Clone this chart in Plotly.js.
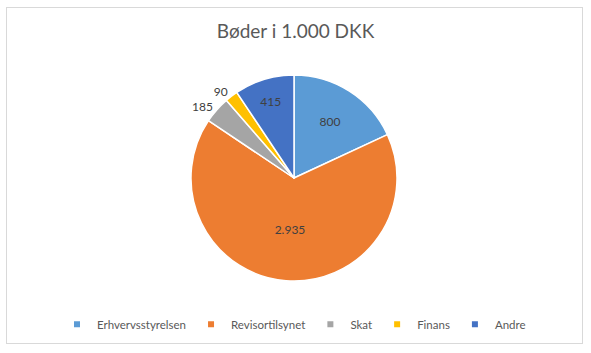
<!DOCTYPE html>
<html><head><meta charset="utf-8">
<script src="https://cdn.plot.ly/plotly-3.0.1.min.js"></script>
<style>
html,body{margin:0;padding:0;background:#fff;}
#wrap{position:relative;width:591px;height:353px;}
#frame{position:absolute;left:6px;top:7px;width:575px;height:335px;border:1px solid #d9d9d9;pointer-events:none;}
#chart{position:absolute;left:0;top:0;width:591px;height:353px;}
</style></head>
<body>
<div id="wrap"><div id="chart"></div><div id="frame"></div></div>
<script>
const categories = ["Erhvervsstyrelsen", "Revisortilsynet", "Skat", "Finans", "Andre"];
const values = [800, 2935, 185, 90, 415];
const colors = ["#5B9BD5", "#ED7D31", "#A5A5A5", "#FFC000", "#4472C4"];
const labelPositions = ["inside", "inside", "outside", "outside", "inside"];

const font = "Lato, 'Open Sans', sans-serif";
const traces = [{
  type: "pie",
  labels: categories,
  values: values,
  sort: false,
  direction: "clockwise",
  rotation: 0,
  showlegend: false,
  marker: {colors: colors, line: {color: "#ffffff", width: 1.5}},
  texttemplate: "%{value:,}",
  textposition: labelPositions,
  insidetextorientation: "horizontal",
  textfont: {family: font, size: 12, color: "#404040"},
  hoverinfo: "label+value"
}];
categories.forEach((c, i) => {
  traces.push({type: "scatter", mode: "markers", x: [null], y: [null], name: c,
    marker: {symbol: "square", size: 6, color: colors[i]}, showlegend: true, hoverinfo: "skip"});
});

Plotly.newPlot("chart", traces, {
  width: 591, height: 353,
  separators: ",.",
  margin: {l: 0, r: 3, t: 75, b: 72},
  paper_bgcolor: "#ffffff",
  plot_bgcolor: "rgba(0,0,0,0)",
  xaxis: {visible: false, showgrid: false, zeroline: false},
  yaxis: {visible: false, showgrid: false, zeroline: false},
  title: {text: "Bøder i 1.000 DKK", x: 0.5, xanchor: "center", y: 0.91, yanchor: "middle",
          font: {family: font, size: 19, color: "#595959"}},
  showlegend: true,
  legend: {orientation: "h", x: 0.5, xanchor: "center", y: -0.21, yanchor: "middle",
           font: {family: font, size: 11.5, color: "#595959"},
           itemwidth: 30, traceorder: "normal"}
}, {displayModeBar: false});
</script>
</body></html>
